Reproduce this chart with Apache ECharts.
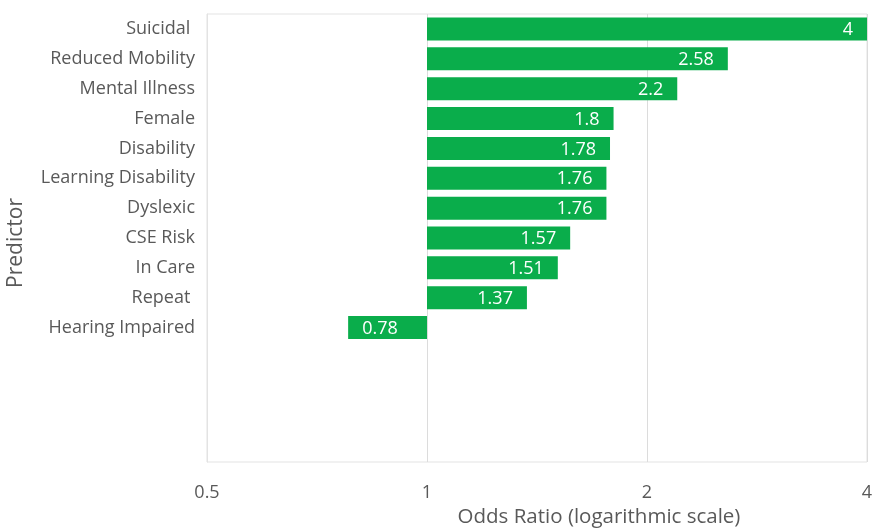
<!DOCTYPE html>
<html>
<head>
<meta charset="utf-8">
<script src="https://cdn.jsdelivr.net/npm/echarts@6/dist/echarts.min.js"></script>
<style>html,body{margin:0;padding:0;background:#fff;}#c{width:875px;height:528px;}</style>
</head>
<body>
<div id="c"></div>
<script>
const categories = ['Suicidal ','Reduced Mobility','Mental Illness','Female','Disability','Learning Disability','Dyslexic','CSE Risk','In Care','Repeat ','Hearing Impaired','','','',''];
const oddsRatios = [4, 2.58, 2.2, 1.8, 1.78, 1.76, 1.76, 1.57, 1.51, 1.37, 0.78];
const tickValues = [0.5, 1, 2, 4];
const baseline = 1;

const chart = echarts.init(document.getElementById('c'));
const FONT = '"Open Sans", Lato, sans-serif';
chart.setOption({
  animation: false,
  grid: {left: 207, right: 8, top: 14, bottom: 66, show: true, borderColor: '#e3e3e3', borderWidth: 1,
         outerBoundsMode: 'none', containLabel: false},
  xAxis: {
    type: 'log', logBase: 2, min: 0.5, max: 4,
    axisLine: {show: false}, axisTick: {show: false},
    splitLine: {show: true, lineStyle: {color: '#dcdcdc', width: 1}},
    axisLabel: {color: '#595959', fontSize: 18, fontFamily: FONT, margin: 22,
      formatter: v => String(tickValues.find(t => Math.abs(t - v) < 1e-6) ?? v)},
    name: 'Odds Ratio (logarithmic scale)', nameLocation: 'middle', nameGap: 42,
    nameTextStyle: {color: '#595959', fontSize: 20.5, fontFamily: FONT, padding: [0, 0, 0, 124]}
  },
  yAxis: {
    type: 'category', inverse: true, data: categories,
    axisLine: {show: true, lineStyle: {color: '#e3e3e3'}}, axisTick: {show: false},
    axisLabel: {color: '#595959', fontSize: 18, fontFamily: FONT, margin: 12, padding: [3, 0, 0, 0]},
    name: 'Predictor', nameLocation: 'middle', nameGap: 180, nameRotate: 90,
    nameTextStyle: {color: '#595959', fontSize: 21, fontFamily: FONT, padding: [0, 10, 0, 0]}
  },
  series: [{
    type: 'custom',
    data: oddsRatios.map((v, i) => [v, i]),
    encode: {x: 0, y: 1},
    renderItem: function (params, api) {
      const v = api.value(0);
      const idx = api.value(1);
      const p0 = api.coord([baseline, idx]);
      const p1 = api.coord([v, idx]);
      const h = api.size([0, 1])[1] * 0.77;
      const x = Math.min(p0[0], p1[0]);
      const w = Math.abs(p1[0] - p0[0]);
      const pos = v >= baseline;
      return {
        type: 'group',
        children: [
          {type: 'rect', shape: {x: x, y: p0[1] - h / 2, width: w, height: h},
           style: {fill: '#0aad4b'}},
          {type: 'text', style: {
            text: String(v), x: pos ? p1[0] - 14 : p1[0] + 14, y: p0[1] + 1,
            align: pos ? 'right' : 'left', verticalAlign: 'middle',
            fill: '#ffffff', fontSize: 18, fontFamily: FONT}}
        ]
      };
    }
  }]
});
</script>
</body>
</html>
